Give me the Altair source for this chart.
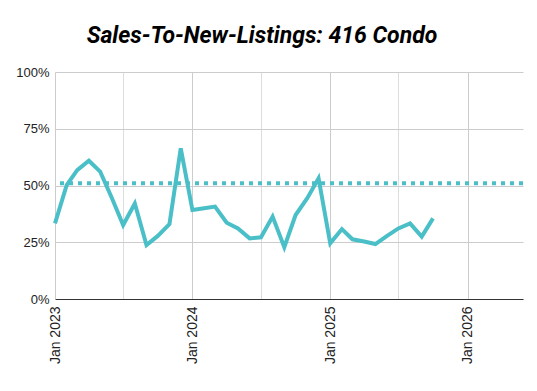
import altair as alt
import pandas as pd

months = pd.date_range("2023-01-01", "2025-10-01", freq="MS").strftime("%Y-%m-%d").tolist()
ratios = [33.3, 50.2, 56.8, 60.9, 56.1, 44.5, 32.6, 42.1, 23.8, 27.8, 33.0, 66.4,
          39.2, 40.0, 40.7, 33.6, 31.1, 26.7, 27.2, 36.3, 22.8, 37.0, 44.4, 53.2,
          24.5, 30.8, 26.3, 25.3, 24.2, 27.8, 31.1, 33.3, 27.5, 35.5]
benchmark = [0.51]

df = pd.DataFrame({"month": months, "ratio": [r / 100 for r in ratios]})
bench_df = pd.DataFrame({"level": benchmark})

tick_dates = pd.date_range("2023-01-01", "2026-01-01", freq="6MS").strftime("%Y-%m-%d").tolist()

color = "#4BBFC8"

x_scale = alt.Scale(domain=["2023-01-01", "2026-05-28"])
y_scale = alt.Scale(domain=[0, 1])

line = alt.Chart(df).mark_line(color=color, strokeWidth=4).encode(
    x=alt.X("month:T", scale=x_scale, title=None,
            axis=alt.Axis(values=tick_dates,
                          labelExpr="month(datum.value) == 0 ? timeFormat(datum.value, '%b %Y') : ''",
                          labelAngle=-90, labelFont="Liberation Sans", labelFontSize=14,
                          labelColor="#222", labelPadding=7, ticks=False,
                          domainColor="#333", domainWidth=1.2,
                          gridColor={"condition": {"test": "month(datum.value) == 0", "value": "#cccccc"},
                                     "value": "#dddddd"})),
    y=alt.Y("ratio:Q", scale=y_scale, title=None,
            axis=alt.Axis(values=[0, 0.25, 0.5, 0.75, 1], format=".0%",
                          labelFont="Liberation Sans", labelFontSize=13, labelColor="#222",
                          labelPadding=6, ticks=False, domainColor="#cccccc", gridColor="#cccccc")),
)

bench = alt.Chart(bench_df).mark_rule(color=color, strokeWidth=4, strokeDash=[4, 5]).encode(
    y=alt.Y("level:Q", scale=y_scale),
)

chart = alt.layer(bench, line).properties(
    width=468, height=227,
    title=alt.TitleParams("Sales-To-New-Listings: 416 Condo", font="Roboto", fontSize=23,
                          fontWeight="bold", fontStyle="italic", color="#000",
                          anchor="middle", dx=-27, offset=18, frame="group"),
    autosize=alt.AutoSizeParams(type="none"),
    padding={"left": 47, "top": 64, "right": 6, "bottom": 80},
).configure_view(stroke=None)

chart.save("out.html", embed_options={"renderer": "svg", "actions": False})
